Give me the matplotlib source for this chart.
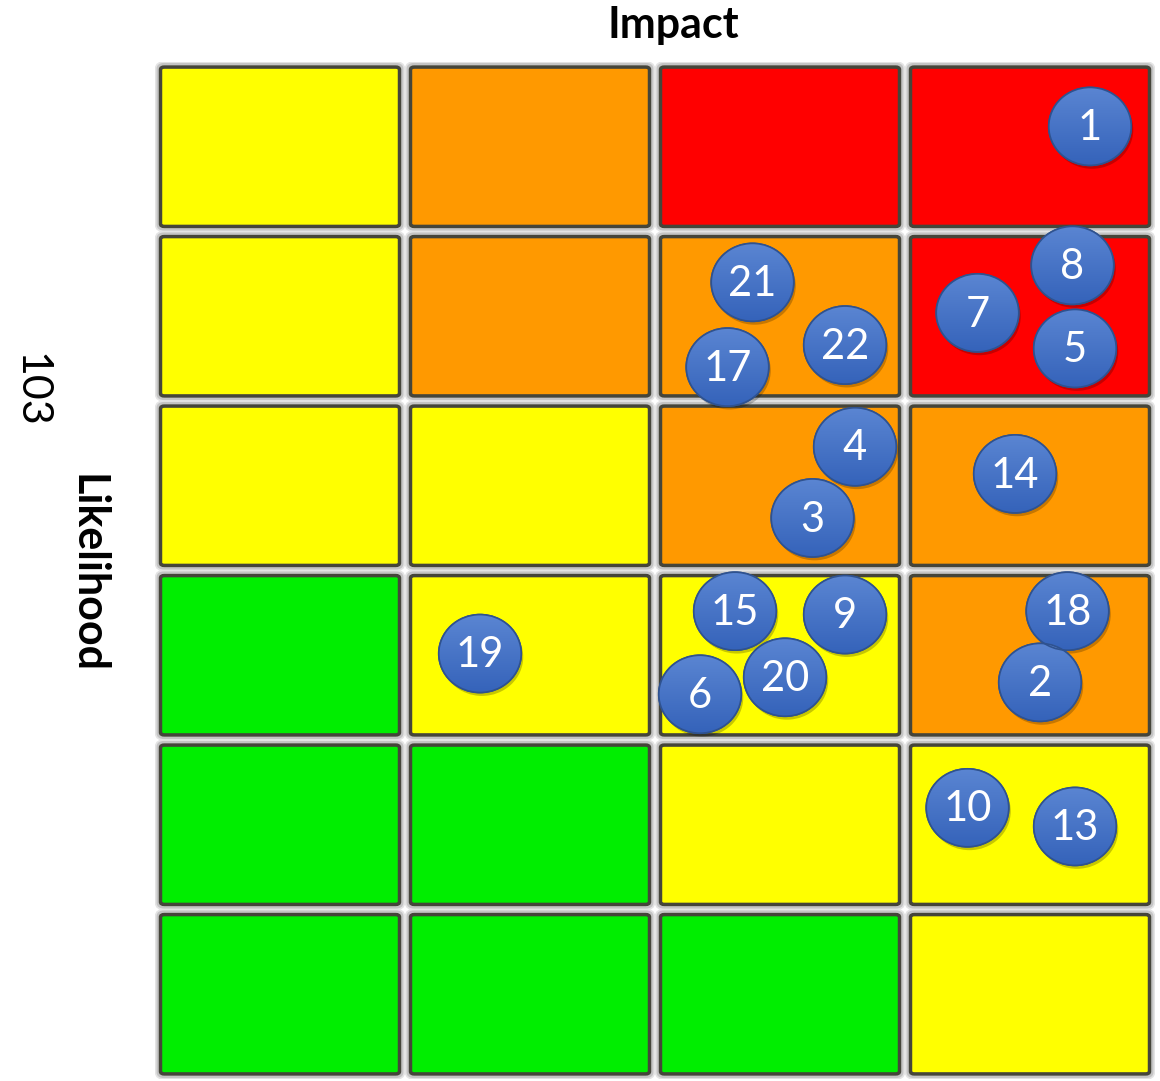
import numpy as np
import matplotlib
matplotlib.use("Agg")
import matplotlib.pyplot as plt
from matplotlib.patches import Ellipse, FancyBboxPatch
from matplotlib.colors import LinearSegmentedColormap

plt.rcParams['font.family'] = ['Lato', 'DejaVu Sans']

# grid of risk levels, top row first (rows = likelihood, cols = impact)
levels = [
    ["Y", "O", "R", "R"],
    ["Y", "O", "O", "R"],
    ["Y", "Y", "O", "O"],
    ["G", "Y", "Y", "O"],
    ["G", "G", "Y", "Y"],
    ["G", "G", "G", "Y"],
]
level_colors = {"G": "#00EE00", "Y": "#FFFF00", "O": "#FF9900", "R": "#FF0000"}

# risk ids and their positions (impact, likelihood) in grid units
risk_ids = [1, 8, 7, 5, 21, 22, 17, 4, 3, 14, 15, 9, 20, 6, 19, 18, 2, 10, 13]
risk_x = [3.74, 3.67, 3.29, 3.68, 2.39, 2.76, 2.29, 2.80, 2.63, 3.44,
          2.32, 2.76, 2.52, 2.18, 1.30, 3.65, 3.54, 3.25, 3.68]
risk_y = [5.62, 4.80, 4.52, 4.31, 4.70, 4.33, 4.20, 3.73, 3.31, 3.57,
          2.76, 2.74, 2.37, 2.27, 2.51, 2.76, 2.34, 1.60, 1.49]

fig = plt.figure(figsize=(11.6, 10.81), dpi=100)
fig.patch.set_facecolor('white')
ax = fig.add_axes([155 / 1160, 2 / 1081, 1000 / 1160, 1017 / 1081])
ax.set_xlim(0, 4)
ax.set_ylim(0, 6)
ax.axis('off')

nrows = len(levels)
gx, gy = 0.022, 0.03
for r, row in enumerate(levels):
    for c, lv in enumerate(row):
        y0 = nrows - 1 - r
        # soft shadow around each cell
        for k, (lw, col) in enumerate([(6, '#E4E4E4'), (3.5, '#C4C4C4')]):
            halo = FancyBboxPatch((c + gx - 0.006, y0 + gy - 0.01),
                                  1 - 2 * gx + 0.012, 1 - 2 * gy + 0.02,
                                  boxstyle="round,pad=0,rounding_size=0.02",
                                  facecolor='none', edgecolor=col,
                                  linewidth=lw, zorder=1 + k * 0.1)
            ax.add_patch(halo)
        box = FancyBboxPatch((c + gx, y0 + gy), 1 - 2 * gx, 1 - 2 * gy,
                             boxstyle="round,pad=0,rounding_size=0.015",
                             facecolor=level_colors[lv], edgecolor='#45453A',
                             linewidth=2.5, zorder=2)
        ax.add_patch(box)

blue = LinearSegmentedColormap.from_list("blue", ["#3563BA", "#5A85D2"])
grad = np.linspace(0, 1, 64).reshape(-1, 1)
ew, eh = 0.33, 0.46
for rid, x, y in zip(risk_ids, risk_x, risk_y):
    sh = Ellipse((x + 0.008, y - 0.02), ew, eh, facecolor='black',
                 alpha=0.22, edgecolor='none', zorder=3)
    ax.add_patch(sh)
    e = Ellipse((x, y), ew, eh, facecolor='#4472C4', edgecolor='#2F528F',
                linewidth=1.2, zorder=4)
    ax.add_patch(e)
    im = ax.imshow(grad, cmap=blue, origin='lower', aspect='auto',
                   extent=(x - ew / 2, x + ew / 2, y - eh / 2, y + eh / 2),
                   zorder=4.1)
    im.set_clip_path(e)
    rim = Ellipse((x, y), ew, eh, facecolor='none', edgecolor='#2F528F',
                  linewidth=1.2, zorder=4.2)
    ax.add_patch(rim)
    ax.text(x, y - 0.01, str(rid), color='white', fontsize=30,
            ha='center', va='center', zorder=5)

ax.set_xlim(0, 4)
ax.set_ylim(0, 6)

fig.text(673 / 1160, 1 - 25 / 1081, "Impact", fontsize=31, fontweight='bold',
         ha='center', va='center')
fig.text(87 / 1160, 1 - 574 / 1081, "Likelihood", fontsize=31,
         fontweight='bold', ha='center', va='center', rotation=-90)
fig.text(30 / 1160, 1 - 390 / 1081, "103", fontsize=31,
         ha='center', va='center', rotation=-90)

fig.savefig("out.png", dpi=100, facecolor='white')
